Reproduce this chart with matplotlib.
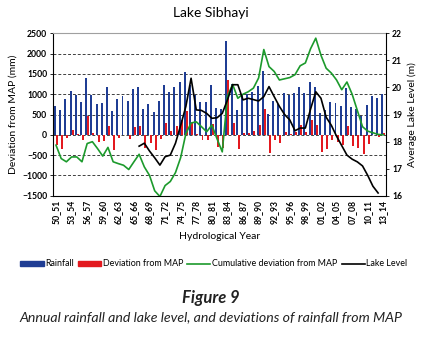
import matplotlib
matplotlib.use('Agg')
import matplotlib.pyplot as plt
import numpy as np
from matplotlib.patches import Patch
from matplotlib.lines import Line2D

years = ["50_51", "51_52", "52_53", "53_54", "54_55", "55_56", "56_57", "57_58", "58_59", "59_60",
         "60_61", "61_62", "62_63", "63_64", "64_65", "65_66", "66_67", "67_68", "68_69", "69_70",
         "70_71", "71_72", "72_73", "73_74", "74_75", "75_76", "76_77", "77_78", "78_79", "79_80",
         "80_81", "81_82", "82_83", "83_84", "84_85", "85_86", "86_87", "87_88", "88_89", "89_90",
         "90_91", "91_92", "92_93", "93_94", "94_95", "95_96", "96_97", "97_98", "98_99", "99_00",
         "00_01", "01_02", "02_03", "03_04", "04_05", "05_06", "06_07", "07_08", "08_09", "09_10",
         "10_11", "11_12", "12_13", "13_14"]

rainfall = [700, 610, 880, 1070, 970, 820, 1410, 990, 770, 790,
            1170, 585, 880, 955, 840, 1135, 1170, 635, 750, 570,
            840, 1235, 1045, 1170, 1310, 1550, 1235, 980, 815, 815,
            1225, 650, 625, 2300, 1240, 610, 995, 995, 1045, 1195,
            1580, 510, 830, 760, 1020, 980, 1020, 1185, 1020, 1310,
            1185, 527, 610, 815, 775, 710, 1160, 690, 630, 470,
            730, 955, 900, 1000]

deviation = [-255, -345, -75, 115, 15, -135, 455, 35, -185, -165,
             215, -370, -75, 0, -115, 180, 215, -320, -205, -385,
             -115, 280, 90, 215, 355, 595, 280, 25, -140, -140,
             270, -305, -330, 1345, 285, -345, 40, 40, 90, 240,
             625, -445, -125, -195, 65, 25, 65, 230, 65, 355,
             230, -430, -345, -140, -180, -245, 205, -265, -325, -485,
             -225, 0, -55, 45]

cumulative = [-255, -585, -665, -545, -545, -665, -215, -170, -340, -525,
              -310, -665, -710, -750, -855, -665, -480, -790, -1000, -1380,
              -1520, -1250, -1150, -930, -560, 30, 290, 320, 200, 75,
              240, -100, -420, 950, 1240, 900, 1000, 1060, 1150, 1400,
              2100, 1680, 1560, 1350, 1380, 1410, 1480, 1700, 1770, 2120,
              2380, 1960, 1640, 1520, 1350, 1110, 1300, 1000, 600, 200,
              90, 50, 10, 0]

lake_level = [np.nan] * 16 + [
    17.83, 17.94, 17.65, 17.40, 17.13, 17.44, 17.50, 17.94, 18.60, 19.30,
    20.34, 19.17, 19.15, 19.04, 18.86, 18.88, 19.04, 19.54, 20.10, 20.10,
    19.54, 19.60, 19.55, 19.50, 19.66, 20.03, 19.66, 19.30, 19.00, 18.80,
    18.40, 18.50, 18.50, 19.20, 19.84, 19.60, 18.90, 18.60, 18.20, 17.85,
    17.50, 17.35, 17.25, 17.10, 16.75, 16.35, 16.10] + [np.nan]

FONT = 'Lato'
plt.rcParams['font.family'] = [FONT, 'DejaVu Sans']

W, H = 422, 345
fig = plt.figure(figsize=(W / 100, H / 100), dpi=100)
L, R, T, B = 53.4, 385.9, 33.3, 195.7
ax = fig.add_axes([L / W, 1 - B / H, (R - L) / W, (B - T) / H])

x = np.arange(len(years))
bw = 0.38
blue = '#1f3d94'
red = '#e3191f'
green = '#1c9a2c'

ax.set_axisbelow(True)
ax.yaxis.grid(True, color='#404040', linestyle=(0, (3, 2)), linewidth=0.7)
ax.bar(x - 0.2, rainfall, bw, color=blue, zorder=2)
ax.bar(x + 0.2, deviation, bw, color=red, zorder=2)
ax.plot(x, cumulative, color=green, lw=1.2, zorder=3)

ax.set_xlim(-0.5, len(years) - 0.5)
ax.set_ylim(-1500, 2500)
ax.set_yticks(np.arange(-1500, 2501, 500))
ax.set_xticks(x[::3])
ax.set_xticklabels(years[::3], rotation=90, fontsize=6.2)
ax.tick_params(axis='y', labelsize=6.2, length=2.5, width=0.6, pad=2)
ax.tick_params(axis='x', length=0, pad=3)
for lab in ax.get_yticklabels():
    lab.set_fontweight('bold')
for lab in ax.get_xticklabels():
    lab.set_fontweight('bold')

ax.spines['top'].set_color('#a0a0a0')
ax.spines['top'].set_linewidth(0.8)
for s in ['left', 'bottom']:
    ax.spines[s].set_color('black')
    ax.spines[s].set_linewidth(0.8)
ax.spines['right'].set_visible(False)

ax2 = ax.twinx()
ax2.plot(x, lake_level, color='black', lw=1.2)
ax2.set_ylim(16, 22)
ax2.set_yticks(np.arange(16, 23, 1))
ax2.tick_params(axis='y', labelsize=6.2, length=2.5, width=0.6, pad=2)
for lab in ax2.get_yticklabels():
    lab.set_fontweight('bold')
ax2.spines['right'].set_color('black')
ax2.spines['right'].set_linewidth(0.8)
for s in ['left', 'top', 'bottom']:
    ax2.spines[s].set_visible(False)

ax.set_ylabel('Deviation from MAP (mm)', fontsize=7.5, labelpad=3)
ax2.set_ylabel('Average Lake Level (m)', fontsize=7.5, labelpad=4)
ax.set_xlabel('Hydrological Year', fontsize=7.5, labelpad=6)

fig.text(211 / W, 1 - 13 / H, 'Lake Sibhayi', ha='center', va='center', fontsize=10)

handles = [Patch(color=blue), Patch(color=red),
           Line2D([], [], color=green, lw=1.2), Line2D([], [], color='black', lw=1.2)]
labels = ['Rainfall', 'Deviation from MAP', 'Cumulative deviation from MAP', 'Lake Level']
fig.legend(handles, labels, loc='center', bbox_to_anchor=(214 / W, 1 - 264 / H), ncol=4,
           frameon=False, fontsize=6.4, handlelength=2.6, handleheight=0.55,
           handletextpad=0.2, columnspacing=0.45, borderaxespad=0)

fig.text(211 / W, 1 - 298 / H, 'Figure 9', ha='center', va='center', fontsize=12,
         fontweight='bold', style='italic', color='#222222')
fig.text(211 / W, 1 - 317 / H, 'Annual rainfall and lake level, and deviations of rainfall from MAP',
         ha='center', va='center', fontsize=10.2, style='italic', color='#222222')

fig.savefig('out.png', dpi=100)
